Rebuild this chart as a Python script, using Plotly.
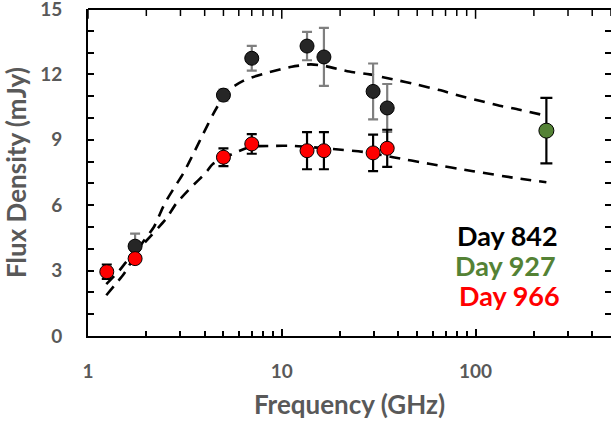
import math
import plotly.graph_objects as go

# ---- data ----
freq_842 = [1.75, 5.0, 7.0, 13.5, 16.5, 29.6, 35.0]
flux_842 = [4.12, 11.05, 12.74, 13.3, 12.8, 11.22, 10.46]
err_842 = [0.58, 0.25, 0.57, 0.65, 1.33, 1.28, 1.1]

freq_927 = [232.0]
flux_927 = [9.42]
err_927 = [1.5]

freq_966 = [1.25, 1.75, 5.0, 7.0, 13.5, 16.5, 29.6, 35.0]
flux_966 = [2.95, 3.55, 8.2, 8.81, 8.5, 8.5, 8.4, 8.61]
err_966 = [0.33, 0.15, 0.41, 0.45, 0.85, 0.85, 0.84, 0.85]

model_842_freq = [1.243, 1.373, 1.533, 1.921, 2.188, 2.486, 2.799, 3.099, 3.561, 3.929,
                  4.425, 4.79, 5.395, 6.318, 6.98, 8.469, 11.26, 14.11, 16.46, 22.3,
                  28.4, 37.3, 50.5, 65.1, 82.7, 105, 133, 168.7, 232]
model_842_flux = [1.87, 2.33, 2.85, 4.31, 5.0, 6.07, 6.83, 7.45, 8.5, 9.27,
                  10.18, 10.71, 11.33, 11.7, 11.86, 12.08, 12.35, 12.46, 12.4, 12.13,
                  12.0, 11.78, 11.52, 11.28, 11.02, 10.79, 10.56, 10.38, 10.1]

model_966_freq = [1.243, 1.457, 1.576, 1.967, 2.531, 2.849, 3.41, 4.01, 4.42, 6.07, 7.0,
                  8.86, 11.43, 18.4, 27.2, 37.5, 57.6, 97.1, 162.2, 232]
model_966_flux = [2.38, 3.02, 3.4, 4.3, 5.38, 6.07, 6.83, 7.44, 7.9, 8.5, 8.69,
                  8.72, 8.72, 8.58, 8.43, 8.2, 7.9, 7.56, 7.24, 7.05]

x_major = [1, 10, 100]
x_major_text = ["1", "10", "100"]
x_minor = [2, 3, 4, 5, 6, 7, 8, 9, 20, 30, 40, 50, 60, 70, 80, 90, 200, 300, 400, 500]

legend_labels = ["Day 842", "Day 927", "Day 966"]
legend_colors = ["#000000", "#548235", "#ff0000"]

FONT = "Lato"
GRAY = "#595959"
X_RANGE = [0, math.log10(500)]
Y_RANGE = [0, 15]

fig = go.Figure()

dash = "11px,8px"
fig.add_trace(go.Scatter(x=model_842_freq, y=model_842_flux, mode="lines",
                         line=dict(color="black", width=2.6, dash=dash, shape="spline", smoothing=0.6),
                         showlegend=False, hoverinfo="skip"))
fig.add_trace(go.Scatter(x=model_966_freq, y=model_966_flux, mode="lines",
                         line=dict(color="black", width=2.6, dash=dash, shape="spline", smoothing=0.6),
                         showlegend=False, hoverinfo="skip"))

fig.add_trace(go.Scatter(x=freq_842, y=flux_842, mode="markers",
                         marker=dict(size=14, color="#262626", line=dict(color="black", width=1)),
                         error_y=dict(type="data", array=err_842, color="#7f7f7f", thickness=2.2, width=5),
                         showlegend=False))
fig.add_trace(go.Scatter(x=freq_927, y=flux_927, mode="markers",
                         marker=dict(size=15, color="#548235", line=dict(color="black", width=1)),
                         error_y=dict(type="data", array=err_927, color="black", thickness=2.2, width=6),
                         showlegend=False))
fig.add_trace(go.Scatter(x=freq_966, y=flux_966, mode="markers",
                         marker=dict(size=14, color="#ff0000", line=dict(color="black", width=1)),
                         error_y=dict(type="data", array=err_966, color="black", thickness=2.2, width=5),
                         showlegend=False))

# top-edge tick marks: vertical line markers at the tick values, clipped to the plot area
fig.add_trace(go.Scatter(x=x_major, y=[Y_RANGE[1]] * len(x_major), mode="markers", cliponaxis=True,
                         marker=dict(symbol="line-ns", size=14, line=dict(color="black", width=1.5)),
                         showlegend=False, hoverinfo="skip"))
fig.add_trace(go.Scatter(x=x_minor, y=[Y_RANGE[1]] * len(x_minor), mode="markers", cliponaxis=True,
                         marker=dict(symbol="line-ns", size=10, line=dict(color="black", width=1.5)),
                         showlegend=False, hoverinfo="skip"))

tick_font = dict(family=FONT, size=19, color=GRAY, weight="bold")
title_font = dict(family=FONT, size=26, color=GRAY, weight="bold")

fig.update_layout(
    width=611, height=429,
    margin=dict(l=88, r=0, t=9, b=93),
    paper_bgcolor="white", plot_bgcolor="white",
    font=dict(family=FONT, color=GRAY),
    xaxis=dict(
        type="log", range=X_RANGE, automargin=False,
        showline=True, linecolor="black", linewidth=2,
        ticks="inside", ticklen=7, tickwidth=1.5, tickcolor="black",
        tickmode="array", tickvals=x_major, ticktext=x_major_text,
        tickfont=tick_font, ticklabelstandoff=17,
        minor=dict(tickmode="array", tickvals=x_minor, ticks="inside", ticklen=5,
                   tickwidth=1.5, tickcolor="black"),
        showgrid=False, zeroline=False,
        title=dict(text="Frequency (GHz)", standoff=15, font=title_font),
    ),
    yaxis=dict(
        range=Y_RANGE, automargin=False,
        showline=True, linecolor="black", linewidth=2, mirror="allticks",
        ticks="inside", ticklen=6, tickwidth=1.5, tickcolor="black",
        tickmode="linear", tick0=0, dtick=3,
        tickfont=tick_font, ticklabelstandoff=20, ticklabeloverflow="allow",
        minor=dict(dtick=1, tick0=0, ticks="inside", ticklen=6, tickwidth=1.5, tickcolor="black"),
        showgrid=False, zeroline=False,
        title=dict(text="Flux Density (mJy)", standoff=10, font=title_font),
    ),
    shapes=[dict(type="line", xref="paper", yref="paper", x0=0, x1=1, y0=1, y1=1,
                 line=dict(color="black", width=2), layer="above")],
)

legend_x = [0.803, 0.798, 0.806]
legend_y = [0.308, 0.216, 0.125]
for lab, col, lx, ly in zip(legend_labels, legend_colors, legend_x, legend_y):
    fig.add_annotation(text=lab, xref="paper", yref="paper", x=lx, y=ly,
                       xanchor="center", yanchor="middle", showarrow=False,
                       font=dict(family=FONT, size=27, color=col, weight="bold"))

fig.write_html(
    "out.html",
    config={"displayModeBar": False},
    post_script="document.body.style.margin='0';document.body.style.padding='0';"
                "document.body.style.overflow='hidden';",
)
